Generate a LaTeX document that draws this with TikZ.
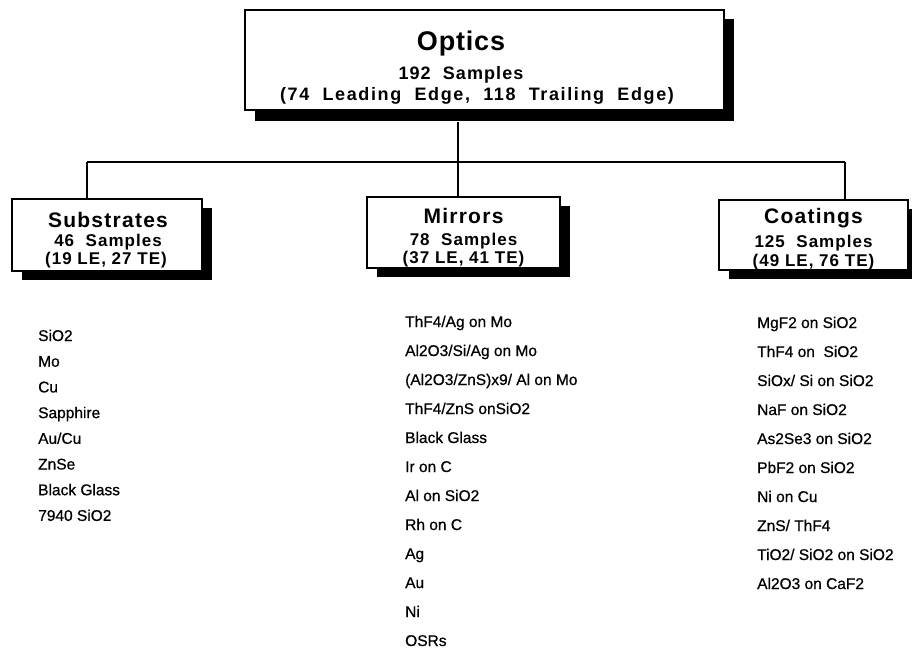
\documentclass[tikz,border=0pt]{standalone}
\usepackage{fontspec}
\setmainfont{Liberation Sans}
\newfontfamily\boxfont[LetterSpace=6]{Liberation Sans}
\newfontfamily\topfont[LetterSpace=9]{Liberation Sans}
\newfontfamily\titlefont[LetterSpace=3]{Liberation Sans}
\newfontfamily\itemfont[FakeBold=0.7]{Liberation Sans}
\usetikzlibrary{shadows}
\begin{document}
\begin{tikzpicture}[x=1pt,y=-1pt,
  box/.style={draw=black, line width=1.8pt, fill=white, inner sep=0pt,
    drop shadow={shadow xshift=10pt, shadow yshift=-9pt, fill=black, opacity=1}},
  conn/.style={line width=1.8pt},
  ttl/.style={inner sep=0pt, anchor=base, font=\boxfont\bfseries\fontsize{21}{24}\selectfont},
  bigttl/.style={inner sep=0pt, anchor=base, font=\titlefont\bfseries\fontsize{27}{30}\selectfont},
  topsub/.style={inner sep=0pt, anchor=base, font=\topfont\bfseries\fontsize{18}{21}\selectfont},
  topmid/.style={inner sep=0pt, anchor=base, font=\boxfont\bfseries\fontsize{18}{21}\selectfont},
  sub/.style={inner sep=0pt, anchor=base, font=\boxfont\bfseries\fontsize{17}{20}\selectfont},
  item/.style={inner sep=0pt, anchor=base west, font=\itemfont\fontsize{15.5}{18}\selectfont}
]
\useasboundingbox (0,0) rectangle (912,654);

% boxes
\node[box, minimum width=479pt, minimum height=100pt,
  drop shadow={shadow xshift=10pt, shadow yshift=-11pt, fill=black, opacity=1}] (top) at (484.5,60) {};
\node[box, minimum width=190pt, minimum height=72pt] (subbox) at (107,235) {};
\node[box, minimum width=193pt, minimum height=71pt] (mirbox) at (463.5,232.5) {};
\node[box, minimum width=189pt, minimum height=70pt] (coabox) at (813.5,235) {};

% box texts
\node[bigttl] (t1) at (461,50) {Optics};
\node[topmid] (t2) at (461,79) {192\ \ Samples};
\node[topsub] (t3) at (477,100) {(74\ \ Leading\ \ Edge,\ \ 118\ \ Trailing\ \ Edge)};

\node[ttl] (s1) at (108,227) {Substrates};
\node[sub] (s2) at (108,246) {46\ \ Samples};
\node[sub] (s3) at (106,264) {(19 LE, 27 TE)};

\node[ttl] (m1) at (463.5,223) {Mirrors};
\node[sub] (m2) at (463.5,245) {78\ \ Samples};
\node[sub] (m3) at (463.5,263) {(37 LE, 41 TE)};

\node[ttl] (c1) at (813.5,223) {Coatings};
\node[sub] (c2) at (813.5,247) {125\ \ Samples};
\node[sub] (c3) at (813.5,266) {(49 LE, 76 TE)};

% connectors
\coordinate (js) at (87,162);
\coordinate (jm) at (458,162);
\coordinate (jc) at (845,162);
\draw[conn] (js) -- (jc);
\draw[conn] (jm |- top.south) ++(0,11) -- (jm);
\draw[conn] (jm) -- (jm |- mirbox.north);
\draw[conn] (js) -- (js |- subbox.north);
\draw[conn] (jc) -- (jc |- coabox.north);

% substrates list
\foreach \t [count=\i from 0] in {SiO2,Mo,Cu,Sapphire,Au/Cu,ZnSe,Black Glass,7940 SiO2}
  \node[item] (sl\i) at (38,{341+25.7*\i}) {\t};

% mirrors list
\foreach \t [count=\i from 0] in {ThF4/Ag on Mo,Al2O3/Si/Ag on Mo,(Al2O3/ZnS)x9/ Al on Mo,ThF4/ZnS onSiO2,Black Glass,Ir on C,Al on SiO2,Rh on C,Ag,Au,Ni,OSRs}
  \node[item] (ml\i) at (405,{327+29*\i}) {\t};

% coatings list
\foreach \t [count=\i from 0] in {MgF2 on SiO2,ThF4 on\ \ SiO2,SiOx/ Si on SiO2,NaF on SiO2,As2Se3 on SiO2,PbF2 on SiO2,Ni on Cu,ZnS/ ThF4,TiO2/ SiO2 on SiO2,Al2O3 on CaF2}
  \node[item] (cl\i) at (757,{328+29*\i}) {\t};
\end{tikzpicture}
\end{document}
